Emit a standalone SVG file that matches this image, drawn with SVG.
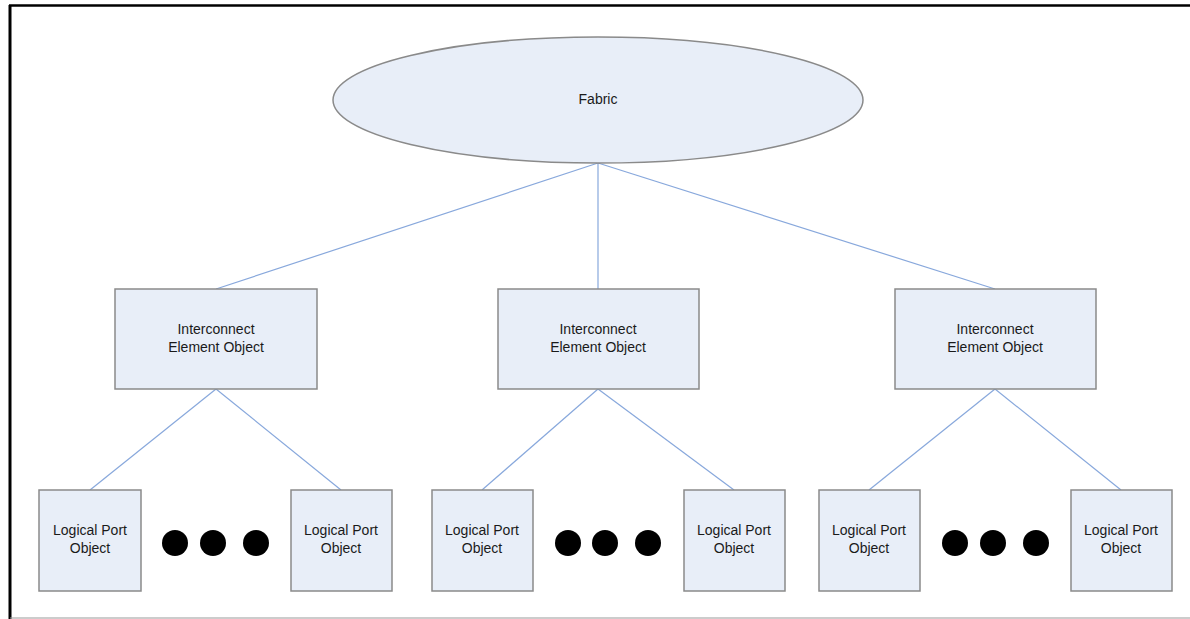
<svg xmlns="http://www.w3.org/2000/svg" width="1190" height="619" viewBox="0 0 1190 619">
<style>
.node{fill:#e8eef8;stroke:#8a8a8a;stroke-width:1.5}
.lbl{font-family:"Liberation Sans",Arial,sans-serif;font-size:14px;fill:#1a1a1a;text-anchor:middle}
.conn line{stroke:#88a8dc;stroke-width:1.2}
.dot{fill:#000}
</style>
<rect width="1190" height="619" fill="#fff"/>
<line x1="9" y1="5.5" x2="1190" y2="5.5" stroke="#000" stroke-width="2.5"/>
<line x1="10" y1="5" x2="10" y2="619" stroke="#000" stroke-width="3"/>
<line x1="10" y1="618" x2="1190" y2="618" stroke="#999" stroke-width="1.2"/>
<g class="conn">
<line x1="598" y1="163" x2="216" y2="289"/>
<line x1="598" y1="163" x2="598" y2="289"/>
<line x1="598" y1="163" x2="995" y2="289"/>
<line x1="216" y1="389" x2="90" y2="490"/>
<line x1="216" y1="389" x2="341" y2="490"/>
<line x1="598" y1="389" x2="482" y2="490"/>
<line x1="598" y1="389" x2="734" y2="490"/>
<line x1="995" y1="389" x2="869" y2="490"/>
<line x1="995" y1="389" x2="1121" y2="490"/>
</g>
<g id="fabric">
<ellipse class="node" cx="598" cy="100" rx="265" ry="63"/>
<text class="lbl" x="598" y="104">Fabric</text>
</g>
<g id="ie1">
<rect class="node" x="115" y="289" width="202" height="100"/>
<text class="lbl" x="216" y="334">Interconnect</text>
<text class="lbl" x="216" y="352">Element Object</text>
</g>
<g id="ie2">
<rect class="node" x="498" y="289" width="201" height="100"/>
<text class="lbl" x="598" y="334">Interconnect</text>
<text class="lbl" x="598" y="352">Element Object</text>
</g>
<g id="ie3">
<rect class="node" x="895" y="289" width="201" height="100"/>
<text class="lbl" x="995" y="334">Interconnect</text>
<text class="lbl" x="995" y="352">Element Object</text>
</g>
<g id="lp1">
<rect class="node" x="39" y="490" width="102" height="101"/>
<text class="lbl" x="90" y="535">Logical Port</text>
<text class="lbl" x="90" y="553">Object</text>
</g>
<g id="lp2">
<rect class="node" x="291" y="490" width="101" height="101"/>
<text class="lbl" x="341" y="535">Logical Port</text>
<text class="lbl" x="341" y="553">Object</text>
</g>
<g id="lp3">
<rect class="node" x="432" y="490" width="101" height="101"/>
<text class="lbl" x="482" y="535">Logical Port</text>
<text class="lbl" x="482" y="553">Object</text>
</g>
<g id="lp4">
<rect class="node" x="684" y="490" width="101" height="101"/>
<text class="lbl" x="734" y="535">Logical Port</text>
<text class="lbl" x="734" y="553">Object</text>
</g>
<g id="lp5">
<rect class="node" x="819" y="490" width="101" height="101"/>
<text class="lbl" x="869" y="535">Logical Port</text>
<text class="lbl" x="869" y="553">Object</text>
</g>
<g id="lp6">
<rect class="node" x="1071" y="490" width="101" height="101"/>
<text class="lbl" x="1121" y="535">Logical Port</text>
<text class="lbl" x="1121" y="553">Object</text>
</g>
<g id="dots1">
<circle class="dot" cx="175" cy="543" r="13"/>
<circle class="dot" cx="213" cy="543" r="13"/>
<circle class="dot" cx="256" cy="543" r="13"/>
</g>
<g id="dots2">
<circle class="dot" cx="568" cy="543" r="13"/>
<circle class="dot" cx="605" cy="543" r="13"/>
<circle class="dot" cx="648" cy="543" r="13"/>
</g>
<g id="dots3">
<circle class="dot" cx="955" cy="543" r="13"/>
<circle class="dot" cx="993" cy="543" r="13"/>
<circle class="dot" cx="1036" cy="543" r="13"/>
</g>
</svg>
